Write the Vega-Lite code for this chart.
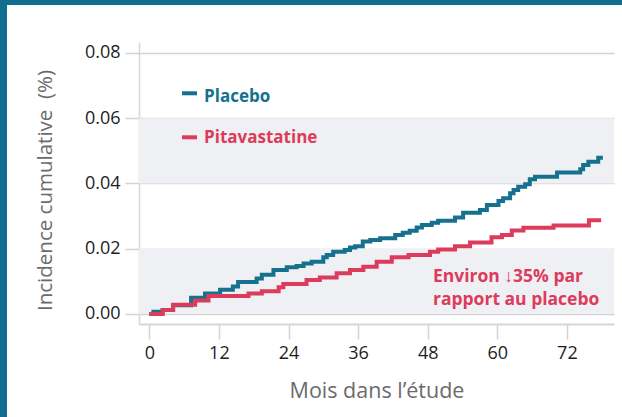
{
  "$schema": "https://vega.github.io/schema/vega-lite/v6.json",
  "width": 615,
  "height": 412,
  "autosize": {"type": "none"},
  "padding": {"left": 7, "top": 5, "right": 0, "bottom": 0},
  "background": "#0f6e8e",
  "config": {"view": {"fill": "white", "stroke": null}, "font": "Open Sans"},
  "datasets": {
    "curves": [
      {"series": "Placebo", "month": 0, "value": 0},
      {"series": "Placebo", "month": 0.7, "value": 0.0007},
      {"series": "Placebo", "month": 2.3, "value": 0.0012},
      {"series": "Placebo", "month": 4.1, "value": 0.0027},
      {"series": "Placebo", "month": 7.2, "value": 0.005},
      {"series": "Placebo", "month": 9.6, "value": 0.0063},
      {"series": "Placebo", "month": 12.2, "value": 0.0074},
      {"series": "Placebo", "month": 14.4, "value": 0.0084},
      {"series": "Placebo", "month": 15.3, "value": 0.0098},
      {"series": "Placebo", "month": 18.5, "value": 0.0109},
      {"series": "Placebo", "month": 19.4, "value": 0.012},
      {"series": "Placebo", "month": 21.4, "value": 0.0135},
      {"series": "Placebo", "month": 23.7, "value": 0.0143},
      {"series": "Placebo", "month": 25.4, "value": 0.0147},
      {"series": "Placebo", "month": 26.6, "value": 0.0155},
      {"series": "Placebo", "month": 28.0, "value": 0.016},
      {"series": "Placebo", "month": 30.0, "value": 0.0174},
      {"series": "Placebo", "month": 30.6, "value": 0.0181},
      {"series": "Placebo", "month": 31.7, "value": 0.0191},
      {"series": "Placebo", "month": 33.7, "value": 0.0196},
      {"series": "Placebo", "month": 34.6, "value": 0.0204},
      {"series": "Placebo", "month": 35.5, "value": 0.0208},
      {"series": "Placebo", "month": 36.8, "value": 0.0222},
      {"series": "Placebo", "month": 38.1, "value": 0.0227},
      {"series": "Placebo", "month": 39.8, "value": 0.0232},
      {"series": "Placebo", "month": 42.4, "value": 0.0242},
      {"series": "Placebo", "month": 43.7, "value": 0.0249},
      {"series": "Placebo", "month": 44.9, "value": 0.0255},
      {"series": "Placebo", "month": 46.1, "value": 0.0265},
      {"series": "Placebo", "month": 47.0, "value": 0.0273},
      {"series": "Placebo", "month": 48.7, "value": 0.028},
      {"series": "Placebo", "month": 49.8, "value": 0.0286},
      {"series": "Placebo", "month": 52.7, "value": 0.0296},
      {"series": "Placebo", "month": 54.1, "value": 0.031},
      {"series": "Placebo", "month": 57.0, "value": 0.0319},
      {"series": "Placebo", "month": 58.2, "value": 0.0334},
      {"series": "Placebo", "month": 60.2, "value": 0.0346},
      {"series": "Placebo", "month": 61.0, "value": 0.0355},
      {"series": "Placebo", "month": 62.2, "value": 0.037},
      {"series": "Placebo", "month": 62.8, "value": 0.038},
      {"series": "Placebo", "month": 63.6, "value": 0.039},
      {"series": "Placebo", "month": 64.8, "value": 0.0398},
      {"series": "Placebo", "month": 65.6, "value": 0.0413},
      {"series": "Placebo", "month": 66.5, "value": 0.0421},
      {"series": "Placebo", "month": 70.3, "value": 0.0434},
      {"series": "Placebo", "month": 74.3, "value": 0.0444},
      {"series": "Placebo", "month": 74.8, "value": 0.0457},
      {"series": "Placebo", "month": 75.7, "value": 0.0467},
      {"series": "Placebo", "month": 77.4, "value": 0.0479},
      {"series": "Placebo", "month": 78.2, "value": 0.0479},
      {"series": "Pitavastatine", "month": 0, "value": 0},
      {"series": "Pitavastatine", "month": 2.3, "value": 0.0012},
      {"series": "Pitavastatine", "month": 4.1, "value": 0.0028},
      {"series": "Pitavastatine", "month": 7.9, "value": 0.0041},
      {"series": "Pitavastatine", "month": 10.2, "value": 0.0055},
      {"series": "Pitavastatine", "month": 17.1, "value": 0.0063},
      {"series": "Pitavastatine", "month": 19.4, "value": 0.007},
      {"series": "Pitavastatine", "month": 22.3, "value": 0.0082},
      {"series": "Pitavastatine", "month": 23.1, "value": 0.0092},
      {"series": "Pitavastatine", "month": 27.1, "value": 0.0104},
      {"series": "Pitavastatine", "month": 29.4, "value": 0.0112},
      {"series": "Pitavastatine", "month": 32.3, "value": 0.0125},
      {"series": "Pitavastatine", "month": 34.6, "value": 0.0135},
      {"series": "Pitavastatine", "month": 36.9, "value": 0.0145},
      {"series": "Pitavastatine", "month": 39.2, "value": 0.016},
      {"series": "Pitavastatine", "month": 41.8, "value": 0.0174},
      {"series": "Pitavastatine", "month": 44.7, "value": 0.0181},
      {"series": "Pitavastatine", "month": 48.4, "value": 0.0191},
      {"series": "Pitavastatine", "month": 49.8, "value": 0.0198},
      {"series": "Pitavastatine", "month": 52.7, "value": 0.0208},
      {"series": "Pitavastatine", "month": 55.3, "value": 0.0219},
      {"series": "Pitavastatine", "month": 59.0, "value": 0.0235},
      {"series": "Pitavastatine", "month": 60.8, "value": 0.0242},
      {"series": "Pitavastatine", "month": 62.5, "value": 0.0256},
      {"series": "Pitavastatine", "month": 64.5, "value": 0.0264},
      {"series": "Pitavastatine", "month": 69.7, "value": 0.0271},
      {"series": "Pitavastatine", "month": 75.8, "value": 0.0287},
      {"series": "Pitavastatine", "month": 77.9, "value": 0.0287}
    ],
    "bands": [{"lo": 0, "hi": 0.02}, {"lo": 0.04, "hi": 0.06}]
  },
  "layer": [
    {
      "data": {"name": "bands"},
      "mark": {"type": "rect", "color": "#eff0f4"},
      "encoding": {
        "x": {
          "datum": -1.78, "type": "quantitative",
          "scale": {"domain": [-1.78, 80.12], "range": [132, 607], "nice": false, "zero": false},
          "axis": {
            "values": [0, 12, 24, 36, 48, 60, 72], "offset": -93, "grid": false,
            "domainColor": "#d6d6d6", "domainWidth": 2,
            "tickColor": "#d3d3d3", "tickWidth": 1.5, "tickSize": 15,
            "labelFontSize": 18, "labelColor": "#1e1e1e", "labelPadding": 5,
            "title": "Mois dans l’étude", "titleFontSize": 21.5, "titleFontWeight": "normal",
            "titleColor": "#6b6b6b", "titleY": 67, "titleBaseline": "middle"
          }
        },
        "x2": {"datum": 80.12},
        "y": {
          "field": "lo", "type": "quantitative",
          "scale": {"domain": [-0.00307, 0.08337], "range": [319, 37], "nice": false, "zero": false},
          "axis": {
            "values": [0, 0.02, 0.04, 0.06, 0.08], "format": ".2f", "offset": -132,
            "grid": true, "gridColor": "#d3d3d3", "gridWidth": 1.5,
            "domainColor": "#d6d6d6", "domainWidth": 1.5,
            "tickColor": "#d3d3d3", "tickWidth": 1.5, "tickSize": 14,
            "labelFontSize": 18, "labelColor": "#1e1e1e", "labelPadding": 5,
            "title": "Incidence cumulative\u00a0 (%)", "titleFontSize": 20.5, "titleFontWeight": "normal",
            "titleColor": "#6b6b6b", "titleX": -94, "titleY": 185, "titleAngle": 270,
            "titleAlign": "center", "titleBaseline": "middle"
          }
        },
        "y2": {"field": "hi"}
      }
    },
    {
      "data": {"name": "curves"},
      "transform": [{"filter": "datum.series == 'Placebo'"}],
      "mark": {"type": "line", "interpolate": "step-after", "strokeWidth": 4, "color": "#16718f"},
      "encoding": {
        "x": {"field": "month", "type": "quantitative"},
        "y": {"field": "value", "type": "quantitative"}
      }
    },
    {
      "data": {"name": "curves"},
      "transform": [{"filter": "datum.series == 'Pitavastatine'"}],
      "mark": {"type": "line", "interpolate": "step-after", "strokeWidth": 4, "color": "#dd3b5b"},
      "encoding": {
        "x": {"field": "month", "type": "quantitative"},
        "y": {"field": "value", "type": "quantitative"}
      }
    },
    {
      "data": {"values": [{"series": "Placebo"}]},
      "mark": {"type": "rule", "strokeWidth": 4, "color": "#16718f"},
      "encoding": {"x": {"datum": 5.64}, "x2": {"datum": 8.22}, "y": {"datum": 0.06765}}
    },
    {
      "data": {"values": [{"series": "Pitavastatine"}]},
      "mark": {"type": "rule", "strokeWidth": 4, "color": "#dd3b5b"},
      "encoding": {"x": {"datum": 5.64}, "x2": {"datum": 8.22}, "y": {"datum": 0.05416}}
    },
    {
      "data": {"values": [{"series": "Placebo"}]},
      "mark": {"type": "text", "align": "left", "baseline": "middle", "fontSize": 17, "fontWeight": "bold", "color": "#16718f"},
      "encoding": {"text": {"field": "series"}, "x": {"datum": 9.43}, "y": {"datum": 0.0665}}
    },
    {
      "data": {"values": [{"series": "Pitavastatine"}]},
      "mark": {"type": "text", "align": "left", "baseline": "middle", "fontSize": 17, "fontWeight": "bold", "color": "#dd3b5b"},
      "encoding": {"text": {"field": "series"}, "x": {"datum": 9.43}, "y": {"datum": 0.0539}}
    },
    {
      "data": {"values": [{"note": "Environ ↓35% par\nrapport au placebo"}]},
      "mark": {"type": "text", "align": "left", "baseline": "middle", "fontSize": 17.5, "fontWeight": "bold", "color": "#dd3b5b", "lineBreak": "\n", "lineHeight": 23},
      "encoding": {"text": {"field": "note"}, "x": {"datum": 48.9}, "y": {"datum": 0.01143}}
    }
  ]
}
